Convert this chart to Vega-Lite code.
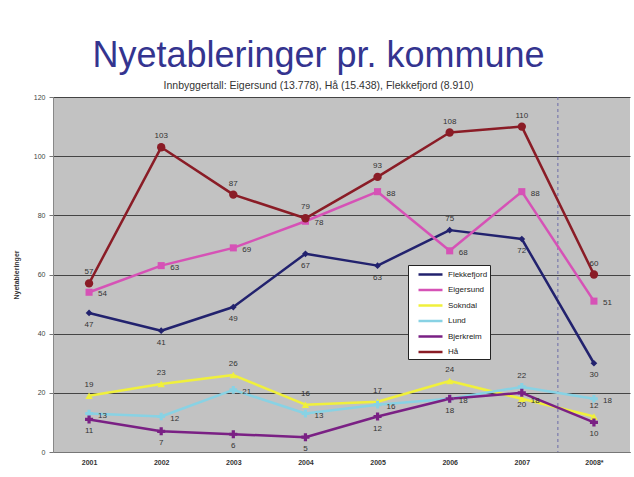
{
  "$schema": "https://vega.github.io/schema/vega-lite/v6.json",
  "width": 577,
  "height": 355,
  "autosize": "none",
  "padding": {"left": 53, "top": 97, "right": 4, "bottom": 25},
  "background": "white",
  "title": {
    "text": "Nyetableringer pr. kommune",
    "subtitle": "Innbyggertall: Eigersund (13.778), Hå (15.438), Flekkefjord (8.910)",
    "font": "Liberation Sans",
    "fontSize": 36,
    "fontWeight": "normal",
    "color": "#34348f",
    "subtitleFont": "Liberation Sans",
    "subtitleFontSize": 10.5,
    "subtitleColor": "#333333",
    "subtitlePadding": 6,
    "anchor": "middle",
    "dx": -23,
    "offset": 1
  },
  "data": {
    "values": [
      {"year": 2001, "kommune": "Flekkefjord", "n": 47},
      {"year": 2002, "kommune": "Flekkefjord", "n": 41},
      {"year": 2003, "kommune": "Flekkefjord", "n": 49},
      {"year": 2004, "kommune": "Flekkefjord", "n": 67},
      {"year": 2005, "kommune": "Flekkefjord", "n": 63},
      {"year": 2006, "kommune": "Flekkefjord", "n": 75},
      {"year": 2007, "kommune": "Flekkefjord", "n": 72},
      {"year": 2008, "kommune": "Flekkefjord", "n": 30},
      {"year": 2001, "kommune": "Eigersund", "n": 54},
      {"year": 2002, "kommune": "Eigersund", "n": 63},
      {"year": 2003, "kommune": "Eigersund", "n": 69},
      {"year": 2004, "kommune": "Eigersund", "n": 78},
      {"year": 2005, "kommune": "Eigersund", "n": 88},
      {"year": 2006, "kommune": "Eigersund", "n": 68},
      {"year": 2007, "kommune": "Eigersund", "n": 88},
      {"year": 2008, "kommune": "Eigersund", "n": 51},
      {"year": 2001, "kommune": "Sokndal", "n": 19},
      {"year": 2002, "kommune": "Sokndal", "n": 23},
      {"year": 2003, "kommune": "Sokndal", "n": 26},
      {"year": 2004, "kommune": "Sokndal", "n": 16},
      {"year": 2005, "kommune": "Sokndal", "n": 17},
      {"year": 2006, "kommune": "Sokndal", "n": 24},
      {"year": 2007, "kommune": "Sokndal", "n": 18},
      {"year": 2008, "kommune": "Sokndal", "n": 12},
      {"year": 2001, "kommune": "Lund", "n": 13},
      {"year": 2002, "kommune": "Lund", "n": 12},
      {"year": 2003, "kommune": "Lund", "n": 21},
      {"year": 2004, "kommune": "Lund", "n": 13},
      {"year": 2005, "kommune": "Lund", "n": 16},
      {"year": 2006, "kommune": "Lund", "n": 18},
      {"year": 2007, "kommune": "Lund", "n": 22},
      {"year": 2008, "kommune": "Lund", "n": 18},
      {"year": 2001, "kommune": "Bjerkreim", "n": 11},
      {"year": 2002, "kommune": "Bjerkreim", "n": 7},
      {"year": 2003, "kommune": "Bjerkreim", "n": 6},
      {"year": 2004, "kommune": "Bjerkreim", "n": 5},
      {"year": 2005, "kommune": "Bjerkreim", "n": 12},
      {"year": 2006, "kommune": "Bjerkreim", "n": 18},
      {"year": 2007, "kommune": "Bjerkreim", "n": 20},
      {"year": 2008, "kommune": "Bjerkreim", "n": 10},
      {"year": 2001, "kommune": "Hå", "n": 57},
      {"year": 2002, "kommune": "Hå", "n": 103},
      {"year": 2003, "kommune": "Hå", "n": 87},
      {"year": 2004, "kommune": "Hå", "n": 79},
      {"year": 2005, "kommune": "Hå", "n": 93},
      {"year": 2006, "kommune": "Hå", "n": 108},
      {"year": 2007, "kommune": "Hå", "n": 110},
      {"year": 2008, "kommune": "Hå", "n": 60}
    ]
  },
  "encoding": {
    "x": {
      "field": "year",
      "type": "quantitative",
      "scale": {"domain": [2000.5, 2008.5], "nice": false, "zero": false},
      "axis": {
        "title": null,
        "values": [2001, 2002, 2003, 2004, 2005, 2006, 2007, 2008],
        "labelExpr": "datum.value == 2008 ? '2008*' : datum.value",
        "grid": false,
        "labelFont": "Liberation Sans",
        "labelFontSize": 7,
        "labelFontWeight": "bold",
        "labelColor": "#333333",
        "labelPadding": 6,
        "ticks": false,
        "domainColor": "#777777"
      }
    },
    "y": {
      "field": "n",
      "type": "quantitative",
      "scale": {"domain": [0, 120], "nice": false},
      "axis": {
        "title": "Nyetableringer",
        "titleFont": "Liberation Sans",
        "titleFontSize": 7,
        "titleFontWeight": "bold",
        "titleColor": "#333333",
        "titlePadding": 14,
        "values": [0, 20, 40, 60, 80, 100, 120],
        "labelFont": "Liberation Sans",
        "labelFontSize": 7,
        "labelColor": "#444444",
        "labelPadding": 4,
        "tickSize": 4,
        "tickColor": "#777777",
        "domainColor": "#888888",
        "grid": true,
        "gridColor": "#444444",
        "gridWidth": 1
      }
    }
  },
  "layer": [
    {
      "data": {"values": [{"x": 2007.5}]},
      "mark": {"type": "rule", "color": "#6a6aa8", "strokeDash": [3, 3], "strokeWidth": 1},
      "encoding": {"x": {"field": "x", "type": "quantitative"}, "y": null}
    },
    {
      "mark": {"type": "line", "strokeJoin": "round"},
      "encoding": {
        "color": {
          "field": "kommune",
          "type": "nominal",
          "scale": {
            "domain": ["Flekkefjord", "Eigersund", "Sokndal", "Lund", "Bjerkreim", "Hå"],
            "range": ["#22226e", "#d652b6", "#f0f03c", "#88d2e4", "#7a2084", "#8a1c26"]
          },
          "legend": {
            "title": null,
            "orient": "none",
            "legendX": 355,
            "legendY": 168,
            "fillColor": "white",
            "strokeColor": "#222222",
            "padding": 2,
            "symbolOffset": 13,
            "symbolType": "M-2,0H2",
            "symbolSize": 144,
            "symbolStrokeWidth": 3,
            "labelFont": "Liberation Sans",
            "labelFontSize": 8,
            "labelColor": "#222222",
            "labelOffset": 10,
            "rowPadding": 2.5
          }
        },
        "strokeWidth": {
          "field": "kommune",
          "type": "nominal",
          "scale": {
            "domain": ["Flekkefjord", "Eigersund", "Sokndal", "Lund", "Bjerkreim", "Hå"],
            "range": [2.5, 2.5, 4, 3, 2.5, 3]
          },
          "legend": null
        }
      }
    },
    {
      "mark": {"type": "point", "filled": true, "opacity": 1},
      "encoding": {
        "color": {"field": "kommune", "type": "nominal", "legend": null},
        "shape": {
          "field": "kommune",
          "type": "nominal",
          "scale": {
            "domain": ["Flekkefjord", "Eigersund", "Sokndal", "Lund", "Bjerkreim", "Hå"],
            "range": ["diamond", "square", "triangle-up", "cross", "cross", "circle"]
          },
          "legend": null
        },
        "size": {
          "field": "kommune",
          "type": "nominal",
          "scale": {
            "domain": ["Flekkefjord", "Eigersund", "Sokndal", "Lund", "Bjerkreim", "Hå"],
            "range": [45, 70, 40, 0, 35, 80]
          },
          "legend": null
        }
      }
    },
    {
      "transform": [{"filter": "datum.kommune == 'Hå' || (datum.kommune == 'Sokndal' && datum.year != 2007) || (datum.kommune == 'Lund' && datum.year == 2007) || (datum.kommune == 'Flekkefjord' && datum.year == 2006)"}],
      "mark": {"type": "text", "dy": -11, "font": "Liberation Sans", "fontSize": 8, "color": "#333333"},
      "encoding": {"text": {"field": "n", "type": "quantitative"}}
    },
    {
      "transform": [{"filter": "datum.kommune == 'Eigersund' || (datum.kommune == 'Lund' && datum.year != 2007) || (datum.kommune == 'Sokndal' && datum.year == 2007)"}],
      "mark": {"type": "text", "dx": 9, "dy": 2, "align": "left", "font": "Liberation Sans", "fontSize": 8, "color": "#333333"},
      "encoding": {"text": {"field": "n", "type": "quantitative"}}
    },
    {
      "transform": [{"filter": "(datum.kommune == 'Flekkefjord' && datum.year != 2006) || datum.kommune == 'Bjerkreim'"}],
      "mark": {"type": "text", "dy": 12, "font": "Liberation Sans", "fontSize": 8, "color": "#333333"},
      "encoding": {"text": {"field": "n", "type": "quantitative"}}
    }
  ],
  "resolve": {"legend": {"color": "independent", "shape": "independent", "size": "independent", "strokeWidth": "independent"}},
  "config": {
    "view": {"fill": "#c2c2c2", "stroke": null}
  }
}
